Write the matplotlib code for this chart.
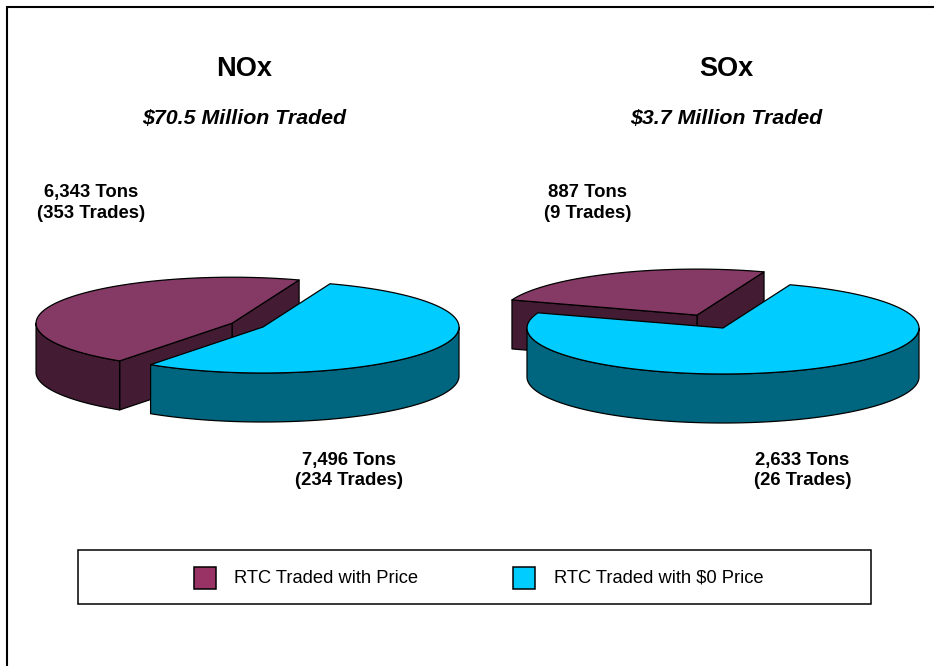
import numpy as np
from matplotlib import pyplot as plt
from matplotlib.patches import Polygon, Rectangle

plt.rcParams['font.family'] = ['Liberation Sans', 'DejaVu Sans']

# data
pollutants = ["NOx", "SOx"]
traded_million = [70.5, 3.7]
tons_price = [6343, 887]
tons_zero = [7496, 2633]
trades_price = [353, 9]
trades_zero = [234, 26]
legend_labels = ["RTC Traded with Price", "RTC Traded with $0 Price"]

# colours: top face, side wall
price_colors = ("#853A66", "#431C33")
zero_colors = ("#00CCFF", "#00667F")
swatch_colors = ("#993366", "#00CCFF")

# layout in pixels
centers = [(263, 327), (723, 328)]
explode = [0.178, 0.31]
rx, ry, depth = 196, 46, 49
start_angle = 70


def arc(cx, cy, a0, a1, n=120):
    t = np.radians(np.linspace(a0, a1, n))
    return np.column_stack([cx + rx * np.cos(t), cy - ry * np.sin(t)])


def draw_face(ax, pts, color, z):
    ax.add_patch(Polygon(pts, closed=True, fc=color, ec="black", lw=0.9, joinstyle="round", zorder=z))


# one slice going counter clockwise from a0 to a1, walls first then the top
def draw_slice(ax, cx, cy, a0, a1, colors, z, cut_faces):
    down = np.array([0, depth])
    apex = np.array([cx, cy])
    if cut_faces:
        for a in (a0, a1):
            edge = arc(cx, cy, a, a, 1)[0]
            draw_face(ax, [apex, edge, edge + down, apex + down], colors[1], z)
    # front of the rim is the part of the slice with angles in 180..360
    lo, hi = max(a0, 180), min(a1, 360)
    if hi > lo:
        rim = arc(cx, cy, lo, hi)
        draw_face(ax, np.vstack([rim, rim[::-1] + down]), colors[1], z)
    draw_face(ax, np.vstack([apex, arc(cx, cy, a0, a1)]), colors[0], z)


fig = plt.figure(figsize=(9.34, 6.66), dpi=100)
ax = fig.add_axes([0, 0, 1, 1])
ax.set_xlim(0, 934)
ax.set_ylim(666, 0)
ax.axis("off")

# frame, only top and left fit in the picture
ax.plot([7, 7, 934], [666, 7, 7], color="black", lw=1.5, solid_joinstyle="miter")

title_x = [244.5, 726.5]
price_label_x = [91, 588]
zero_label_x = [349, 802.5]

for i in range(len(pollutants)):
    cx, cy = centers[i]
    sweep_price = 360 * tons_price[i] / (tons_price[i] + tons_zero[i])
    a_end = start_angle + sweep_price
    mid = np.radians(start_angle + sweep_price / 2)
    ox = cx + explode[i] * rx * np.cos(mid)
    oy = cy - explode[i] * ry * np.sin(mid)

    draw_slice(ax, ox, oy, start_angle, a_end, price_colors, 2, True)
    draw_slice(ax, cx, cy, a_end, start_angle + 360, zero_colors, 3, False)

    ax.text(title_x[i], 68.5, pollutants[i], ha="center", va="center", fontsize=19.5, fontweight="bold")
    ax.text(title_x[i], 119, f"${traded_million[i]} Million Traded", ha="center", va="center",
            fontsize=15.4, fontweight="bold", fontstyle="italic")
    ax.text(price_label_x[i], 203, f"{tons_price[i]:,} Tons\n({trades_price[i]} Trades)", ha="center", va="center",
            fontsize=13.3, fontweight="bold", linespacing=1.25)
    ax.text(zero_label_x[i], 470.5, f"{tons_zero[i]:,} Tons\n({trades_zero[i]} Trades)", ha="center", va="center",
            fontsize=13.3, fontweight="bold", linespacing=1.25)

# legend
ax.add_patch(Rectangle((78, 549.5), 793, 54, fc="white", ec="black", lw=1.1))
for x, c, label in zip([194, 513], swatch_colors, legend_labels):
    ax.add_patch(Rectangle((x, 566.5), 22, 22, fc=c, ec="black", lw=1.1))
    ax.text(x + 40.5, 578.5, label, ha="left", va="center", fontsize=13.25)

fig.savefig("out.png", dpi=100)
